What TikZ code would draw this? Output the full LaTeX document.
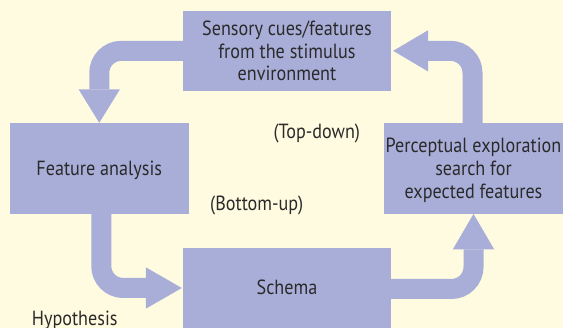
\documentclass[tikz,border=0pt]{standalone}
\usepackage{fontspec}
\newfontfamily\dfont{PT Sans}[FakeStretch=0.885]
\usetikzlibrary{calc}
\definecolor{bgc}{HTML}{FEFBE0}
\definecolor{boxc}{HTML}{A9AED9}
\definecolor{txtc}{HTML}{2A2A2A}
\tikzset{
  box/.style={fill=boxc, inner sep=0pt, align=center, text=txtc,
    font=\dfont\fontsize{20.5}{22.4}\selectfont},
  band/.style={draw=boxc, line width=20pt, rounded corners=22pt},
  head/.style={fill=boxc},
  lbl/.style={text=txtc, inner sep=0pt, font=\dfont\fontsize{20.5}{22.6}\selectfont}
}
\begin{document}
\begin{tikzpicture}[x=1pt, y=-1pt]
\fill[bgc] (0,0) rectangle (563,328);
\useasboundingbox (0,0) rectangle (563,328);
\begin{scope}
\clip (0,0) rectangle (563,328);
\node[box, minimum width=208pt, minimum height=79.7pt] (top) at (287,50.85)
  {Sensory cues/features\\from the stimulus\\environment};
\node[box, minimum width=178.5pt, minimum height=90.7pt, text height=15.3pt, text depth=0pt] (fa) at (99.25,168.35)
  {Feature analysis};
\node[box, minimum width=179pt, minimum height=90.7pt, text depth=0pt,
  font=\dfont\fontsize{20.5}{23}\selectfont] (pe) at (473.5,168.35)
  {Perceptual exploration\\search for\\expected features};
\node[box, minimum width=208pt, minimum height=80pt, text height=14pt, text depth=0pt] (sc) at (287,288)
  {Schema};

% top -> feature analysis
\draw[band] (top.west) -| ($(fa.north)+(0,-33.5)$);
\fill[head] (fa.north) -- ++(-20.7,-33.5) -- ++(41.4,0) -- cycle;
% perceptual -> top
\coordinate (tt) at ($(top.east)+(2,0)$);
\draw[band] ([xshift=-1pt]pe.north) |- ($(tt)+(35,0)$);
\fill[head] (tt) -- ++(35,-20.7) -- ++(0,41.4) -- cycle;
% feature analysis -> schema
\coordinate (st) at ($(sc.west)+(-1,0)$);
\draw[band] ([xshift=2pt]fa.south) |- ($(st)+(-36,0)$);
\fill[head] (st) -- ++(-36,-20.7) -- ++(0,41.4) -- cycle;
% schema -> perceptual
\draw[band] ([yshift=-1pt]sc.east) -| ($(pe.south)+(0,35.5)$);
\fill[head] (pe.south) -- ++(-20.7,35.5) -- ++(41.4,0) -- cycle;

\node[lbl, anchor=base west] (td) at (273.3,139) {(Top-down)};
\node[lbl, anchor=base west] (bu) at (210,210.5) {(Bottom-up)};
\node[lbl, anchor=base west] (hy) at (31.7,326) {Hypothesis};
\end{scope}
\end{tikzpicture}
\end{document}
